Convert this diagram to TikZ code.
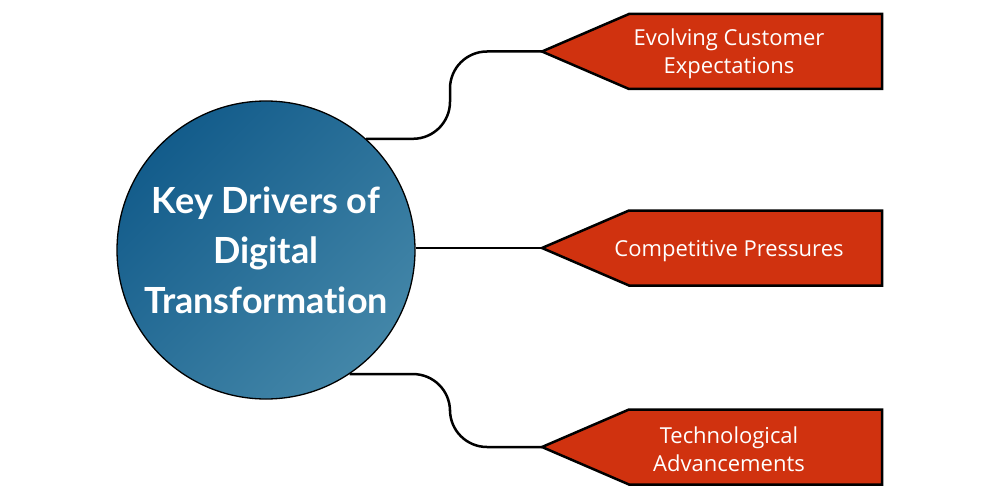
\documentclass[tikz,border=0pt]{standalone}
\usepackage{fontspec}
\setmainfont{Open Sans}
\newfontfamily\hubfont[Ligatures=NoCommon]{Lato}
\usepackage{tikz}
\usetikzlibrary{calc}

\definecolor{hubdark}{HTML}{135C8B}
\definecolor{hublight}{HTML}{4386A8}
\definecolor{drvred}{HTML}{D0320F}

\tikzset{
  hub/.style={circle, draw=black, line width=1.3pt, minimum size=298pt, inner sep=0pt,
    text=white, align=center, font=\hubfont\bfseries\fontsize{36}{50}\selectfont,
    top color=hubdark, bottom color=hublight, shading angle=45},
  drvshape/.style={draw=black, fill=drvred, line width=2.5pt, line join=miter},
  drvtext/.style={text=white, align=center, font=\fontsize{22}{28}\selectfont},
  link/.style={draw=black, line width=2.5pt, rounded corners=37pt},
}

\begin{document}
\begin{tikzpicture}[x=1pt,y=-1pt]
  \useasboundingbox[fill=white] (0,0) rectangle (1000,500);

  % tips of the three drivers
  \coordinate (t1) at (542,51.5);
  \coordinate (t2) at (542,248);
  \coordinate (t3) at (542,447);

  \node[hub] (hub) at (266,250) {Key Drivers of\\Digital\\Transformation};

  % connectors
  \draw[link] (hub.48) -| ([xshift=-92pt]t1) -- (t1);
  \draw[link] (hub.east |- t2) -- (t2);
  \draw[link] (hub.-56) -| ([xshift=-92pt]t3) -- (t3);

  % driver shapes
  \draw[drvshape] (t1) -- ++(87,-37.5) -- ++(253,0) -- ++(0,75) -- ++(-253,0) -- cycle;
  \draw[drvshape] (t2) -- ++(87,-37.5) -- ++(253,0) -- ++(0,75) -- ++(-253,0) -- cycle;
  \draw[drvshape] (t3) -- ++(87,-37.5) -- ++(253,0) -- ++(0,75) -- ++(-253,0) -- cycle;

  \node[drvtext] (d1) at (729,54) {Evolving Customer\\Expectations};
  \node[drvtext] (d2) at (729,251) {Competitive Pressures};
  \node[drvtext] (d3) at (729,449) {Technological\\Advancements};
\end{tikzpicture}
\end{document}
